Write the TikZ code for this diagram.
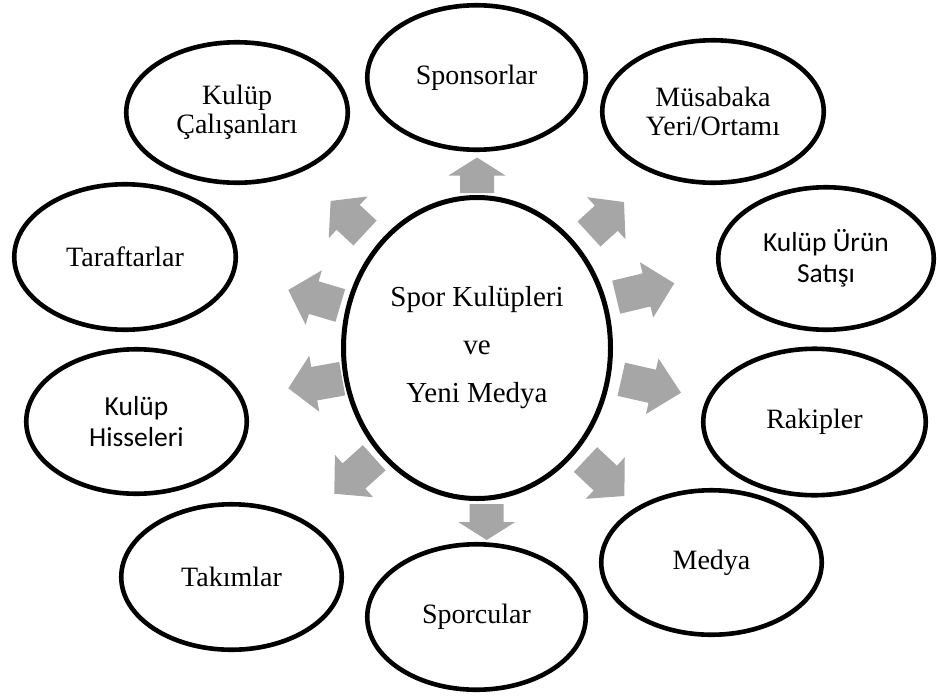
\documentclass[tikz,border=0pt]{standalone}
\usepackage{fontspec}
\setmainfont{Liberation Serif}
\newfontfamily\carl{Carlito}
\usetikzlibrary{shapes.geometric}
\definecolor{arrgray}{HTML}{A6A6A6}
\tikzset{
  outer/.style={ellipse, draw=black, fill=white, line width=4.6pt, inner sep=0pt, align=center,
                font=\fontsize{28}{28.5}\selectfont},
  carlfont/.style={font=\carl\fontsize{27.5}{31}\selectfont},
  hub/.style={ellipse, draw=black, fill=white, line width=5pt, inner sep=0pt, align=center,
              font=\fontsize{29}{48}\selectfont},
  arrfill/.style={fill=arrgray}
}
% x, y (tail centre), angle, total length, head length
\newcommand\bigarr[5]{%
  \fill[arrfill, shift={(#1,#2)}, rotate=#3]
    (0,-17) -- ({#4-#5},-17) -- ({#4-#5},-28.5) -- (#4,0) -- ({#4-#5},28.5) -- ({#4-#5},17) -- (0,17) -- cycle;}
\begin{document}
\begin{tikzpicture}[x=1pt,y=-1pt]
\useasboundingbox (0,0) rectangle (937,699);
% arrows
\bigarr{477}{193}{90}{35.5}{18}
\bigarr{589}{234}{42.4}{47.4}{24}
\bigarr{616.2}{297.2}{13.5}{59.7}{28.5}
\bigarr{621.3}{379.3}{-12.7}{61.2}{29.5}
\bigarr{585.5}{459.5}{-43.2}{53.3}{26.2}
\bigarr{486.7}{504}{-90}{36}{18}
\bigarr{374.2}{457.8}{-138}{53.7}{26.5}
\bigarr{342.2}{378.7}{-169.9}{54.7}{26.3}
\bigarr{340.3}{305.5}{163.4}{54.3}{26.6}
\bigarr{365}{233}{137}{47}{24}
% hub
\node[hub, minimum width=267pt, minimum height=301pt] (hub) at (477,348) {Spor Kulüpleri\\ve\\Yeni Medya};
% outer ellipses
\node[outer, minimum width=218.5pt, minimum height=144.5pt] (spons) at (476.5,77.5) {Sponsorlar};
\node[outer, minimum width=221.5pt, minimum height=140.5pt] (calis) at (237,112.5) {Kulüp\\Çalışanları};
\node[outer, minimum width=221.5pt, minimum height=142.5pt] (musab) at (713,111.5) {Müsabaka\\Yeri/Ortamı};
\node[outer, minimum width=221.5pt, minimum height=145.5pt] (taraf) at (125,257) {Taraftarlar};
\node[outer, carlfont, minimum width=215.5pt, minimum height=142.5pt] (urun) at (826,258.5) {Kulüp Ürün\\Satışı};
\node[outer, carlfont, minimum width=220.5pt, minimum height=144.5pt] (hisse) at (136.5,421.5) {Kulüp\\Hisseleri};
\node[outer, minimum width=222.5pt, minimum height=146.5pt] (rakip) at (814.5,422) {Rakipler};
\node[outer, minimum width=220.5pt, minimum height=145.5pt] (takim) at (231.5,577) {Takımlar};
\node[outer, minimum width=220.5pt, minimum height=144.5pt] (medya) at (711.5,562.5) {Medya};
\node[outer, minimum width=218.5pt, minimum height=145.5pt] (sporc) at (476.5,617) {Sporcular};
\end{tikzpicture}
\end{document}
